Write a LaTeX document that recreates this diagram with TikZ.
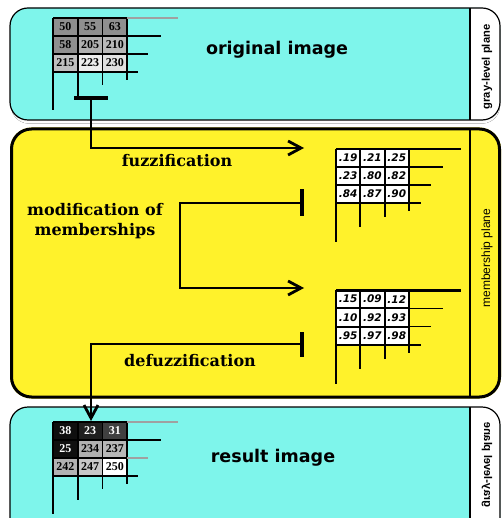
\documentclass[tikz,border=0pt]{standalone}
\usepackage{fontspec}
\setmainfont{DejaVu Serif}
\newfontfamily\cellfont{Liberation Serif}
\newfontfamily\headfont{DejaVu Sans}
\newfontfamily\sidefont{Liberation Sans}
\usetikzlibrary{arrows.meta}
\definecolor{aqua}{HTML}{7EF5EB}
\definecolor{lemon}{HTML}{FFF22B}
\definecolor{shade}{HTML}{4A4A4A}
\definecolor{rulegray}{HTML}{A0A0A0}

\begin{document}
\begin{tikzpicture}[x=1pt,y=-1pt,
  flow/.style={line width=2.8pt,-{Straight Barb[length=13pt,width=14pt]}},
  tbar/.style={fill=black,inner sep=0pt},
  gridline/.style={line width=1.6pt},
  stackline/.style={line width=1.5pt},
  pix/.style={font=\cellfont\bfseries\fontsize{12}{12}\selectfont,inner sep=0pt},
  mem/.style={font=\headfont\bfseries\itshape\fontsize{10.5}{11}\selectfont,inner sep=0pt},
  title/.style={font=\headfont\bfseries\fontsize{17.5}{19}\selectfont,anchor=base},
  step label/.style={font=\bfseries\fontsize{16}{19}\selectfont,anchor=base,align=center},
  side/.style={font=\sidefont\bfseries\fontsize{11.2}{12}\selectfont,rotate=90}]
  \clip (0,0) rectangle (502,518);
  % gray-level plane (original)
  \fill[shade,rounded corners=18] (11,11) rectangle (500,123.5);
  \fill[aqua,rounded corners=18] (10,8) rectangle (500,120);
  \begin{scope}
    \clip (470,0) rectangle (502,125);
    \fill[white,rounded corners=18] (10,8) rectangle (500,120);
  \end{scope}
  \draw[line width=1.2pt,rounded corners=18] (10,8) rectangle (500,120);
  \draw[line width=1.2pt] (470,8) -- (470,120);
  % membership plane
  \draw[lemon,fill=lemon,line width=3pt,rounded corners=20] (11.5,129) rectangle (499.5,397);
  \draw[line width=3pt,rounded corners=20] (11.5,129) rectangle (499.5,397);
  \draw[line width=2.5pt] (470,129) -- (470,397);
  % gray-level plane (result)
  \fill[aqua,rounded corners=18] (10,407) rectangle (500,560);
  \begin{scope}
    \clip (470,400) rectangle (502,518);
    \fill[white,rounded corners=18] (10,407) rectangle (500,560);
  \end{scope}
  \draw[line width=1.2pt,rounded corners=18] (10,407) rectangle (500,560);
  \draw[line width=1.2pt] (470,407) -- (470,518);

  % original grid
  \begin{scope}[shift={(53,18)}]
    \foreach \c/\r/\v/\g in {0/0/50/56,1/0/55/56,2/0/63/56,0/1/58/56,1/1/205/69,
                             2/1/210/72,0/2/215/75,1/2/223/93,2/2/230/88}{
      \fill[white!\g!black] (\c*24.7,\r*18) rectangle (\c*24.7+24.7,\r*18+18);
      \node[pix] (orig\c\r) at (\c*24.7+12.35,\r*18+9) {\v};}
    \foreach \i/\d in {0/38,1/25,2/13,3/8}{
      \draw[gridline] (\i*24.7,0) -- (\i*24.7,54+\d);}
    \foreach \j/\e in {1/34,2/21,3/11}{
      \draw[gridline] (0,\j*18) -- (74.1+\e,\j*18);}
    \draw[gridline] (0,0) -- (74.1,0);
    \draw[stackline,rulegray] (74.1,0) -- (125,0);
  \end{scope}

  % first membership grid
  \begin{scope}[shift={(336,149)}]
    \foreach \c/\r/\v in {0/0/.19,1/0/.21,2/0/.25,0/1/.23,1/1/.80,
                          2/1/.82,0/2/.84,1/2/.87,2/2/.90}{
      \fill[white] (\c*24.3,\r*18) rectangle (\c*24.3+24.3,\r*18+18);
      \node[mem] (fuz\c\r) at (\c*24.3+12.15,\r*18+9) {\v};}
    \foreach \i/\d in {0/39,1/24,2/14,3/8}{
      \draw[line width=2.2pt] (\i*24.3,0) -- (\i*24.3,54+\d);}
    \foreach \j/\e in {0/52,1/34,2/22,3/12}{
      \draw[line width=2.2pt] (0,\j*18) -- (72.9,\j*18);
      \draw[stackline] (72.9,\j*18) -- (72.9+\e,\j*18);}
  \end{scope}

  % modified membership grid
  \begin{scope}[shift={(336,290)}]
    \foreach \c/\r/\v in {0/0/.15,1/0/.09,2/0/.12,0/1/.10,1/1/.92,
                          2/1/.93,0/2/.95,1/2/.97,2/2/.98}{
      \fill[white] (\c*24.3,\r*18.3) rectangle (\c*24.3+24.3,\r*18.3+18.3);
      \node[mem] (mod\c\r) at (\c*24.3+12.15,\r*18.3+9.15) {\v};}
    \foreach \i/\d in {0/39,1/24,2/14,3/8}{
      \draw[line width=2.2pt] (\i*24.3,0) -- (\i*24.3,55+\d);}
    \foreach \j/\e in {1/34,2/22,3/12}{
      \draw[line width=2.2pt] (0,\j*18.3) -- (72.9,\j*18.3);
      \draw[stackline] (72.9,\j*18.3) -- (72.9+\e,\j*18.3);}
    \draw[line width=3pt] (0,0) -- (125,0);
  \end{scope}

  % result grid
  \begin{scope}[shift={(53,422)}]
    \foreach \c/\r/\v/\g/\t in {0/0/38/6/white,1/0/23/12/white,2/0/31/25/white,
                                0/1/25/6/white,1/1/234/69/black,2/1/237/72/black,
                                0/2/242/70/black,1/2/247/78/black,2/2/250/100/black}{
      \fill[white!\g!black] (\c*24.7,\r*18) rectangle (\c*24.7+24.7,\r*18+18);
      \node[pix,text=\t] (res\c\r) at (\c*24.7+12.35,\r*18+9) {\v};}
    \foreach \i/\d in {0/38,1/24,2/13,3/8}{
      \draw[gridline] (\i*24.7,0) -- (\i*24.7,54+\d);}
    \foreach \j/\e/\k in {1/34/black,2/21/rulegray,3/11/black}{
      \draw[gridline] (0,\j*18) -- (74.1,\j*18);
      \draw[stackline,\k] (74.1,\j*18) -- (74.1+\e,\j*18);}
    \draw[gridline] (0,0) -- (74.1,0);
    \draw[stackline,rulegray] (74.1,0) -- (125,0);
  \end{scope}

  % labels
  \node[title] (origTxt) at (277,55) {original image};
  \node[title] (resTxt) at (273,462) {result image};
  \node[step label] (fuzTxt) at (177,167) {fuzzification};
  \node[step label] (modTxt) at (95,235) {modification of\\memberships};
  \node[step label] (defTxt) at (190,366) {defuzzification};
  \node[side] (grayTop) at (487,67) {gray-level plane};
  \node[font=\sidefont\fontsize{12}{13}\selectfont,rotate=90] (memSide) at (487,258) {membership plane};
  \node[side,yscale=-1] (grayBot) at (487,465) {gray-level plane};

  % connectors
  \node[tbar,minimum width=34pt,minimum height=3.5pt] (fuzT) at (91,98) {};
  \node[tbar,minimum width=3.5pt,minimum height=27pt] (modT) at (302,203) {};
  \node[tbar,minimum width=3.5pt,minimum height=25pt] (defT) at (302,344) {};
  \coordinate (fuzA) at (304,148);
  \coordinate (modK) at (180,245);
  \coordinate (modA) at (304,288);
  \coordinate (defA) at (91,421);
  \draw[flow] (fuzT) |- (fuzA);
  \draw[flow] (modT) -| (modK) |- (modA);
  \draw[flow] (defT) -| (defA);
\end{tikzpicture}
\end{document}
